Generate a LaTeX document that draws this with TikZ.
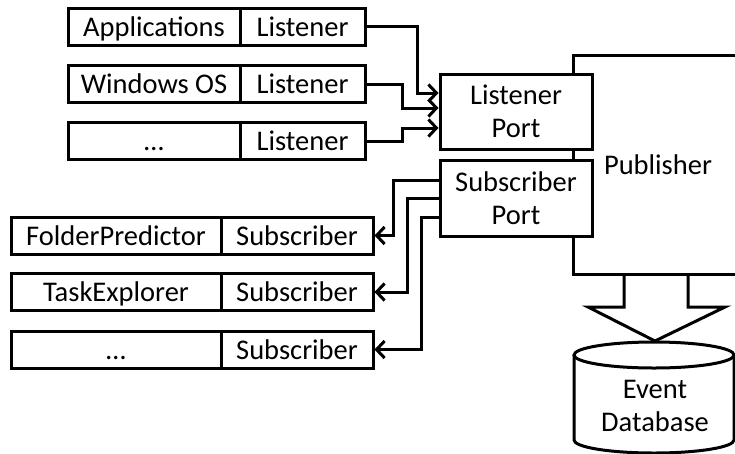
\documentclass[tikz,border=0pt]{standalone}
\usepackage{fontspec}
\setmainfont{Carlito}
\usetikzlibrary{arrows.meta,calc}
\begin{document}
\begin{tikzpicture}[x=1pt,y=-1pt,
  line width=3pt,
  every node/.style={font=\fontsize{28.5}{33}\selectfont},
  cell/.style={draw,inner sep=0pt,minimum height=37pt,text height=20pt,text depth=1pt},
  port/.style={draw,inner sep=0pt,minimum width=152pt,align=center},
  arr/.style={-{Straight Barb[length=8pt,width=17pt,line width=3pt]}}]
\useasboundingbox (0,0) rectangle (735,453);
% listener rows
\node[cell,minimum width=172pt] (L1a) at (154,26.5) {Applications};
\node[cell,minimum width=125pt] (L1b) at (302.5,26.5) {Listener};
\node[cell,minimum width=172pt] (L2a) at (154,84) {Windows OS};
\node[cell,minimum width=125pt] (L2b) at (302.5,84) {Listener};
\node[cell,minimum width=172pt] (L3a) at (154,141) {\dots};
\node[cell,minimum width=125pt] (L3b) at (302.5,141) {Listener};
% subscriber rows
\node[cell,minimum width=210pt] (S1a) at (116,235.5) {FolderPredictor};
\node[cell,minimum width=152pt] (S1b) at (297,235.5) {Subscriber};
\node[cell,minimum width=210pt] (S2a) at (116,292) {TaskExplorer};
\node[cell,minimum width=152pt] (S2b) at (297,292) {Subscriber};
\node[cell,minimum width=210pt] (S3a) at (116,349.5) {\dots};
\node[cell,minimum width=152pt] (S3b) at (297,349.5) {Subscriber};
% ports
\node[port,minimum height=75pt] (LP) at (516,111.5) {Listener\\Port};
\node[port,minimum height=76pt] (SP) at (516,198) {Subscriber\\Port};
% publisher
\node (pub) at (658,165) {Publisher};
\draw (735,55) -- (573,55) -- (LP.north -| 573,0);
\draw (LP.south -| 573,0) -- (SP.north -| 573,0);
\draw (SP.south -| 573,0) -- (573,274) -- (735,274);
% big arrow
\draw[line join=miter] (624,274) -- (624,307) -- (588,307) -- (655,341) -- (725,307) -- (688,307) -- (688,274);
% database
\draw (574,355) -- (574,440) arc[start angle=180,end angle=360,x radius=80,y radius=-13] -- (734,355);
\draw (654,355) ellipse[x radius=80,y radius=13];
\node[align=center] (db) at (655,406) {Event\\Database};
% listener connectors
\draw[arr] (L1b.east) -| (417,93) -- (LP.west |- 0,93);
\draw[arr] (L2b.east) -| (402,108) -- (LP.west |- 0,108);
\draw[arr] (L3b.east) -| (402,128) -- (LP.west |- 0,128);
% subscriber connectors
\draw[arr] (SP.west |- 0,180) -| (393,235.5) -- (S1b.east);
\draw[arr] (SP.west |- 0,198) -| (407,292) -- (S2b.east);
\draw[arr] (SP.west |- 0,217) -| (421,349.5) -- (S3b.east);
\end{tikzpicture}
\end{document}
